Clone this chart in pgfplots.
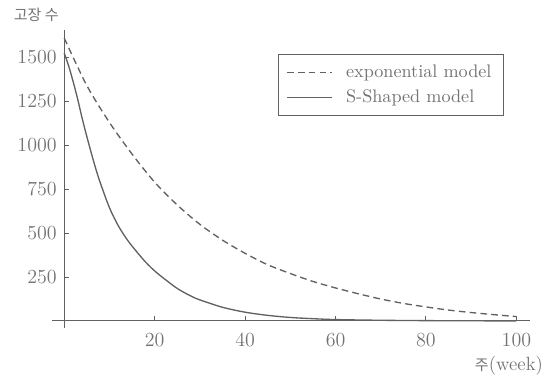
\documentclass[border=0pt]{standalone}
\usepackage{pgfplots}
\pgfplotsset{compat=1.18}
\usepackage{fontspec}
\newfontfamily\kr{Noto Sans CJK KR}
\definecolor{ln}{gray}{0.38}
\definecolor{tx}{gray}{0.45}
\begin{document}
\begin{tikzpicture}
\useasboundingbox (-31.2pt,-31.8pt) rectangle (298.2pt,196.8pt);
\begin{axis}[
  scale only axis, width=286.8pt, height=178.8pt,
  anchor=south west, at={(0pt,0pt)},
  axis lines=middle,
  axis line style={ln, line width=0.6pt, -},
  xmin=-2.7, xmax=103, ymin=-40, ymax=1656,
  xtick={20,40,60,80,100}, ytick={250,500,750,1000,1250,1500},
  /pgf/number format/1000 sep={},
  tick align=inside, major tick length=3pt,
  tick style={ln, line width=0.6pt},
  tick label style={tx, font=\fontsize{11.5}{13}\selectfont},
  xticklabel style={yshift=-4pt},
  yticklabel style={xshift=-1pt},
  xlabel={{\kr\fontsize{9}{11}\selectfont 주}(week)},
  xlabel style={tx, font=\fontsize{11.5}{13}\selectfont, at={(axis description cs:0.956,-0.128)}, anchor=center},
  ylabel={\kr 고장 수},
  ylabel style={tx, font=\kr\fontsize{9}{11}\selectfont, at={(axis description cs:-0.033,1.05)}, anchor=center},
  legend style={at={(0.472,0.919)}, anchor=north west, draw=ln, line width=0.6pt, text=tx,
    font=\fontsize{10.9}{13}\selectfont, inner xsep=5pt, inner ysep=4pt, row sep=2pt,
    /tikz/every odd column/.append style={column sep=0pt}},
  legend cell align=left,
  legend image code/.code={\draw[#1] (0pt,0pt) -- (27pt,0pt);},
]
\addplot[ln, line width=0.8pt, dash pattern=on 4pt off 2.5pt, smooth] coordinates {
(0,1610) (5,1340) (10,1130) (15,950) (20,790) (25,660) (30,550) (35,460) (40,385)
(45,320) (50,270) (55,225) (60,188) (65,155) (70,125) (75,100) (80,80) (85,62)
(90,48) (95,36) (100,25)};
\addlegendentry{\hspace{6pt}exponential model}
\addplot[ln, line width=0.8pt, smooth] coordinates {
(0,1525) (1,1450) (2,1360) (3,1260) (4,1150) (5,1050) (6,955) (7,865) (8,785)
(10,645) (12,540) (14,460) (16,395) (18,335) (20,285) (22,243) (25,185) (28,142)
(30,120) (35,78) (40,50) (45,32) (50,20) (55,13) (60,8) (70,4) (80,2) (90,1) (100,0.5)};
\addlegendentry{\hspace{6pt}S-Shaped model}
\end{axis}
\end{tikzpicture}
\end{document}
